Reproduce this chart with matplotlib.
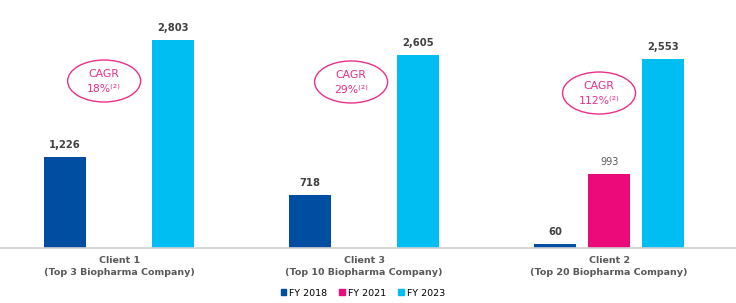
import numpy as np
import matplotlib.pyplot as plt
from matplotlib.patches import Ellipse

# dati
clients = ['Client 1\n(Top 3 Biopharma Company)',
           'Client 3\n(Top 10 Biopharma Company)',
           'Client 2\n(Top 20 Biopharma Company)']
years = ['FY 2018', 'FY 2021', 'FY 2023']
fy2018 = [1226, 718, 60]
fy2021 = [None, None, 993]
fy2023 = [2803, 2605, 2553]
cagr = ['18%', '29%', '112%']

colors = ['#004EA2', '#EC0A7B', '#00BEF2']
pink = '#E8308A'
gray = '#404040'
narrow = ['Liberation Sans Narrow', 'DejaVu Sans']

fig = plt.figure(figsize=(7.36, 3.03), dpi=100)
ax = fig.add_axes([0, 1 - 248 / 303, 1, 248 / 303])

x = np.arange(len(clients))
w = 0.171; off = 0.22
series = [fy2018, fy2021, fy2023]
for k, (vals, c) in enumerate(zip(series, colors)):
    for i, v in enumerate(vals):
        if v is None:
            continue
        xi = x[i] + (k - 1) * off
        ax.bar(xi, v, width=w, color=c)
        if k == 1:
            ax.text(xi, v + 95, f'{v:,}', ha='center', va='bottom', fontsize=7, color='#595959')
        else:
            ax.text(xi, v + 95, f'{v:,}', ha='center', va='bottom', fontsize=7.2,
                    fontweight='bold', color=gray)

# ellissi CAGR
ell_pos = [(-0.061, 2251), (-0.053, 2238), (-0.041, 2089)]
for (ex, ey), txt, xi in zip(ell_pos, cagr, x):
    ax.add_patch(Ellipse((xi + ex, ey), 0.298, 566, fill=False, edgecolor=pink, lw=1.0))
    ax.text(xi + ex, ey + 90, 'CAGR', ha='center', va='center', fontsize=7.8, color=pink)
    ax.text(xi + ex, ey - 110, txt + '⁽²⁾', ha='center', va='center', fontsize=7.8, color=pink)

ax.set_xlim(-0.486, 2.518)
ax.set_ylim(0, 3343)
for s in ['top', 'right', 'left']:
    ax.spines[s].set_visible(False)
ax.spines['bottom'].set_color('#D0D0D0')
ax.spines['bottom'].set_linewidth(1.2)
ax.set_yticks([])
ax.set_xticks(x)
ax.set_xticklabels(clients, fontsize=6.8, fontweight='bold', color='#595959',
                   family=narrow, linespacing=1.45)
ax.tick_params(axis='x', length=0, pad=6)

handles = [plt.Rectangle((0, 0), 1, 1, color=c) for c in colors]
fig.legend(handles, years, loc='center', bbox_to_anchor=(0.493, 1 - 293 / 303), ncol=3,
           frameon=False, handlelength=0.6, handleheight=0.6,
           handletextpad=0.3, columnspacing=1.3,
           prop={'family': narrow, 'size': 6.8})

fig.savefig('out.png', dpi=100)
